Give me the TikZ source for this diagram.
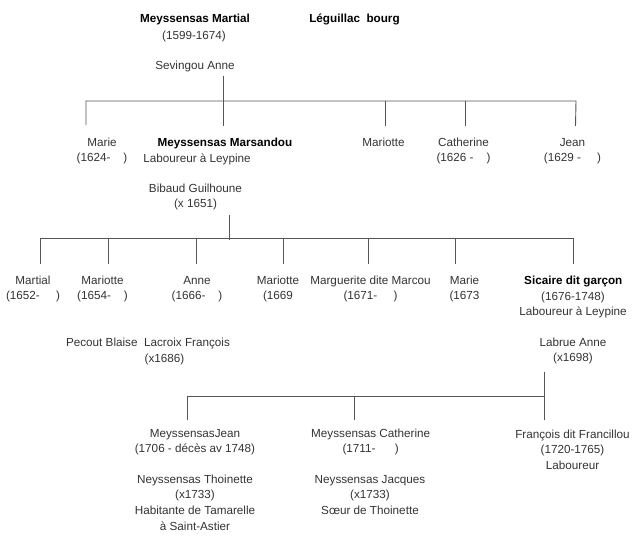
\documentclass[tikz,border=0pt]{standalone}
\usepackage{fontspec}
\setmainfont{Liberation Sans}
\definecolor{tc}{HTML}{333333}
\definecolor{lc}{HTML}{555555}
\newcommand{\fsz}{\fontsize{11.7}{15.8}\selectfont}
\begin{document}
\begin{tikzpicture}[x=1pt,y=-1pt,
  txt/.style={font=\fsz, align=center, inner sep=0pt, anchor=base, text=tc},
  bld/.style={txt, font=\fsz\bfseries, text=black},
  ln/.style={draw=lc, line width=0.9pt}]
\useasboundingbox (0,0) rectangle (640,541);
% generation 0
\node[bld] (martial) at (195,22) {Meyssensas Martial};
\node[txt] (martialdate) at (194,39) {(1599-1674)};
\node[bld] (leg) at (354.5,22) {Léguillac~~bourg};
\node[txt] (sevingou) at (195,69) {Sevingou Anne};
% generation 1
\node[txt] (marie1) at (102,161.8) {Marie\\(1624-~~~~)};
\node[bld] (marsandou) at (225,146) {Meyssensas Marsandou};
\node[txt] (labour1) at (197,162) {Laboureur à Leypine};
\node[txt] (bibaud) at (195.5,207.8) {Bibaud Guilhoune\\(x 1651)};
\node[txt] (mariotte1) at (383.5,146) {Mariotte};
\node[txt] (catherine1) at (463.5,161.8) {Catherine\\(1626 -~~~~)};
\node[txt] (jean1) at (572.5,161.8) {Jean\\(1629 -~~~~~)};
% generation 2
\node[txt] (martial2) at (33,299.8) {Martial\\(1652-~~~~~)};
\node[txt] (mariotte2) at (102.5,299.8) {Mariotte\\(1654-~~~~)};
\node[txt] (anne2) at (197,299.8) {Anne\\(1666-~~~~)};
\node[txt] (mariotte3) at (278,299.8) {Mariotte\\(1669};
\node[txt] (marguerite) at (370.5,299.8) {Marguerite dite Marcou\\(1671-~~~~~)};
\node[txt] (marie2) at (464.5,299.8) {Marie\\(1673};
\node[bld] (sicaire) at (573.3,284) {Sicaire dit garçon};
\node[txt] (sicairedate) at (573,315.8) {(1676-1748)\\Laboureur à Leypine};
\node[txt] (pecout) at (148,346) {Pecout Blaise~~Lacroix François};
\node[txt] (x1686) at (164.5,362) {(x1686)};
\node[txt] (labrue) at (573,361.8) {Labrue Anne\\(x1698)};
% generation 3
\node[txt] (jean3) at (195,452.8) {MeyssensasJean\\(1706 - décès av 1748)};
\node[txt] (thoinette) at (195,530.4) {Neyssensas Thoinette\\(x1733)\\Habitante de Tamarelle\\à Saint-Astier};
\node[txt] (catherine3) at (370.7,452.8) {Meyssensas Catherine\\(1711-~~~~~~)};
\node[txt] (jacques) at (370,514.6) {Neyssensas Jacques\\(x1733)\\Sœur de Thoinette};
\node[txt] (francois) at (572.5,469.6) {François dit Francillou\\(1720-1765)\\Laboureur};
% connector coordinates
\coordinate (a0) at (223,76);
\coordinate (a1) at (223,126);
\coordinate (h1l) at (86,101);
\coordinate (h1r) at (576,101);
\coordinate (d1a) at (86,125);
\coordinate (d1b) at (385,101); \coordinate (d1b2) at (385,126);
\coordinate (d1c) at (465,101); \coordinate (d1c2) at (465,126);
\coordinate (d1d) at (575.5,126);
\coordinate (b0) at (229,215);
\coordinate (b1) at (229,240);
\coordinate (h2l) at (40,238.5);
\coordinate (h2r) at (573.5,238.5);
\coordinate (d2a) at (40,264);
\foreach \n/\x in {b/108.5,c/196,d/283,e/368.5,f/455} {
  \coordinate (d2\n) at (\x,238.5);
  \coordinate (d2\n2) at (\x,264);
}
\coordinate (d2g) at (573.5,264);
\coordinate (c0) at (544.5,372);
\coordinate (c1) at (544.5,420);
\coordinate (h3l) at (187,396);
\coordinate (h3r) at (544.5,396);
\coordinate (d3a) at (187,420);
\coordinate (d3b) at (354.5,396); \coordinate (d3b2) at (354.5,420);
% connectors
\draw[ln] (a0) -- (a1);
\draw[ln] (d1a) -- (h1l) -- (h1r) -- (d1d);
\draw[ln] (d1b) -- (d1b2);
\draw[ln] (d1c) -- (d1c2);
\draw[ln] (b0) -- (b1);
\draw[ln] (d2a) -- (h2l) -- (h2r) -- (d2g);
\foreach \n in {b,c,d,e,f} { \draw[ln] (d2\n) -- (d2\n2); }
\draw[ln] (c0) -- (c1);
\draw[ln] (d3a) -- (h3l) -- (h3r);
\draw[ln] (d3b) -- (d3b2);
\end{tikzpicture}
\end{document}
